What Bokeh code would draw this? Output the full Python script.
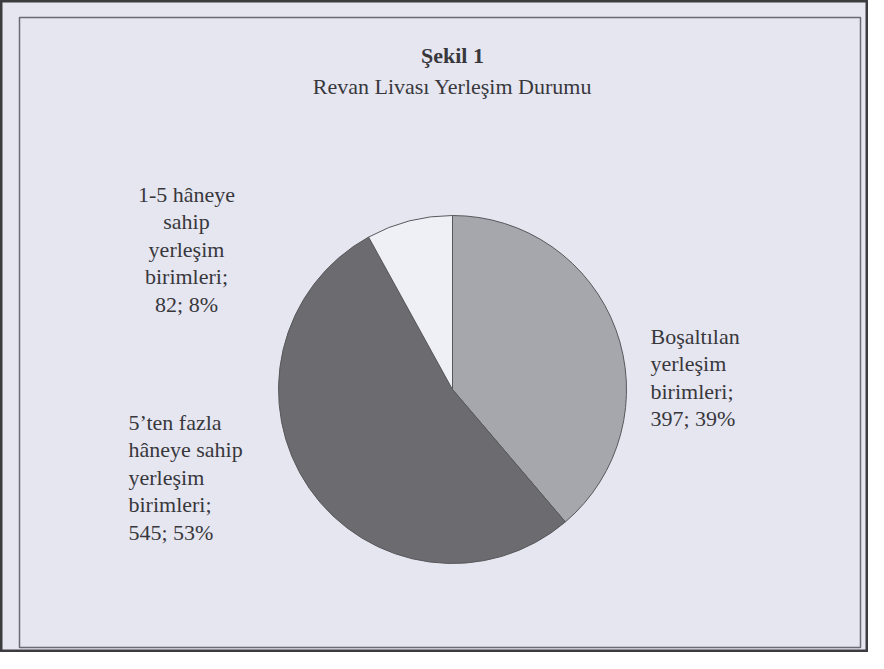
import math
import textwrap
from bokeh.plotting import figure
from bokeh.models import Range1d, ColumnDataSource
from bokeh.core.properties import value
from bokeh.embed import file_html
from bokeh.resources import INLINE

# ---- data ----
title_main = "Şekil 1"
title_sub = "Revan Livası Yerleşim Durumu"
categories = [
    "Boşaltılan yerleşim birimleri",
    "5’ten fazla hâneye sahip yerleşim birimleri",
    "1-5 hâneye sahip yerleşim birimleri",
]
values = [397, 545, 82]
colors = ["#a6a7ad", "#6c6c70", "#efeff6"]

# ---- layout ----
W, H = 868, 652
BG = "#e6e6f1"
TXT = "#38383c"
FONT = "Liberation Serif"

def py(page_y):
    return H - page_y

def px(page_x):
    return page_x

p = figure(width=W, height=H, x_range=Range1d(0, W), y_range=Range1d(0, H),
           min_border=0, toolbar_location=None, output_backend="svg")
p.axis.visible = False
p.grid.visible = False
p.background_fill_color = BG
p.border_fill_color = BG
p.outline_line_color = "#3c3c40"
p.outline_line_width = 4

# inner frame
p.quad(left=[px(19)], right=[px(860)], bottom=[py(647)], top=[py(17)],
       fill_color=None, line_color="#6a6a70", line_width=1.5)

# pie
total = sum(values)
fracs = [v / total for v in values]
starts, ends = [], []
cum = 0.0
for f in fracs:
    starts.append(math.pi / 2 - cum * 2 * math.pi)
    cum += f
    ends.append(math.pi / 2 - cum * 2 * math.pi)

cx, cy, r = px(452), py(389), 174
src = ColumnDataSource(dict(start=starts, end=ends, color=colors))
p.wedge(x=cx, y=cy, radius=r, start_angle="start", end_angle="end",
        direction="clock", fill_color="color", line_color="#58585c",
        line_width=1, source=src)

# titles
p.text(x=[px(452)], y=[py(55)], text=[title_main], text_font=value(FONT),
       text_font_size="22px", text_font_style="bold", text_color=TXT,
       text_align="center", text_baseline="middle")
p.text(x=[px(452)], y=[py(86)], text=[title_sub], text_font=value(FONT),
       text_font_size="22px", text_color=TXT,
       text_align="center", text_baseline="middle")

# labels
wrap_widths = [10, 12, 10]
anchors = [(650, 336, "left"), (128, 422, "left"), (186, 194, "center")]
line_h = 27.4
xs, ys, ts, als = [], [], [], []
for cat, v, f, ww, (ax, ay, al) in zip(categories, values, fracs, wrap_widths, anchors):
    lines = textwrap.wrap(cat, ww)
    lines[-1] = lines[-1] + ";"
    lines.append(f"{v}; {round(f * 100)}%")
    for i, ln in enumerate(lines):
        xs.append(px(ax))
        ys.append(py(ay + i * line_h))
        ts.append(ln)
        als.append(al)

lsrc = ColumnDataSource(dict(x=xs, y=ys, text=ts, align=als))
p.text(x="x", y="y", text="text", text_align="align", source=lsrc,
       text_font=value(FONT), text_font_size="22px", text_color=TXT,
       text_baseline="middle")

open("out.html", "w").write(file_html(p, INLINE))
